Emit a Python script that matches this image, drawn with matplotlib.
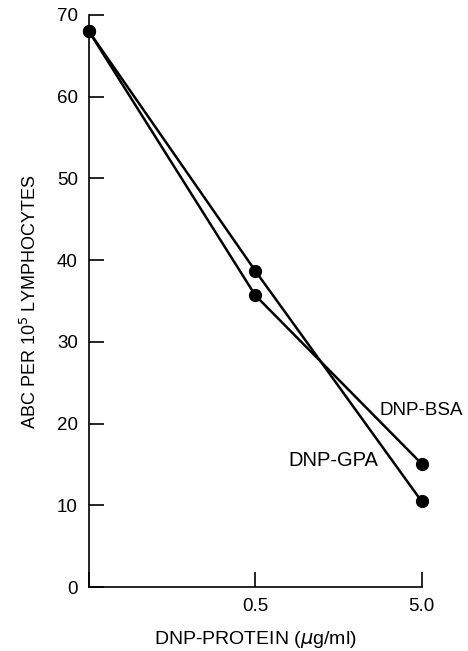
import matplotlib.pyplot as plt

plt.rcParams['font.family'] = ['Liberation Sans', 'DejaVu Sans']

# x positions are categories: control (no label), 0.5 and 5.0 ug/ml
doses = [0, 1, 2]
dose_labels = ["", "0.5", "5.0"]
bsa = [68.0, 35.7, 15.1]   # DNP-BSA
gpa = [68.0, 38.7, 10.5]   # DNP-GPA
yticks = [0, 10, 20, 30, 40, 50, 60, 70]

fig = plt.figure(figsize=(4.68, 6.51), dpi=100)
ax = fig.add_axes([0.19, 0.098, 0.711, 0.879])

ax.plot(doses, bsa, color="black", lw=1.8, marker="o", ms=8.5, clip_on=False, zorder=3)
ax.plot(doses, gpa, color="black", lw=1.8, marker="o", ms=8.5, clip_on=False, zorder=3)

ax.text(1.745, 21.6, "DNP-BSA", fontsize=13.5, ha="left", va="center")
ax.text(1.2, 15.5, "DNP-GPA", fontsize=14.5, ha="left", va="center")

ax.set_xlim(0, 2)
ax.set_ylim(0, 70)
ax.set_xticks(doses)
ax.set_xticklabels(dose_labels)
ax.set_yticks(yticks)

ax.spines["top"].set_visible(False)
ax.spines["right"].set_visible(False)
ax.spines["left"].set_linewidth(1.2)
ax.spines["bottom"].set_linewidth(1.2)
ax.tick_params(direction="in", length=11, width=1.2, labelsize=13.5)
ax.tick_params(axis="y", pad=8)
ax.tick_params(axis="x", pad=8)

ax.set_ylabel("ABC PER 10$^5$ LYMPHOCYTES", fontsize=13, labelpad=12)
ax.set_xlabel("DNP-PROTEIN ($\\mu$g/ml)", fontsize=14, labelpad=10)

fig.savefig("out.png", dpi=100)
